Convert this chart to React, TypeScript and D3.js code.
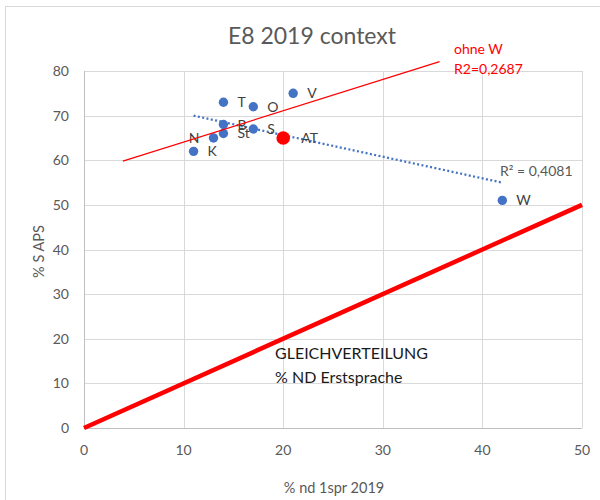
import React, { useEffect, useRef } from "react";
import * as d3 from "d3";

// scatter series (% nd 1spr 2019 vs % S APS)
const names = ["T", "O", "V", "B", "St", "N", "K", "S", "W"];
const nd1spr = [14, 17, 21, 14, 14, 13, 11, 17, 42];
const sAps = [73, 72, 75, 68, 66, 65, 62, 67, 51];
const leftLabels = ["N"];

// highlighted point
const atName = "AT";
const atX = 20;
const atY = 65;

const xTicks = [0, 10, 20, 30, 40, 50];
const yTicks = [0, 10, 20, 30, 40, 50, 60, 70, 80];

// lines drawn by hand in the original
const equalLine = [
  [0, 0],
  [50, 50],
];
const ohneWLine = [
  [3.9, 59.8],
  [35.7, 82.1],
];

const App = () => {
  const chartRef = useRef<SVGSVGElement>(null);

  useEffect(() => {
    const width = 600;
    const height = 500;
    const margin = { top: 71, right: 18, bottom: 72, left: 84 };
    const font = "Lato, 'Open Sans', sans-serif";
    const grey = "#595959";

    const svg = d3.select(chartRef.current);
    svg.selectAll("*").remove();
    svg.attr("width", width).attr("height", height);

    svg
      .append("rect")
      .attr("width", width)
      .attr("height", height)
      .attr("fill", "white");

    // chart border
    svg
      .append("rect")
      .attr("x", 5.5)
      .attr("y", 6.5)
      .attr("width", width)
      .attr("height", height)
      .attr("fill", "none")
      .attr("stroke", "#d9d9d9");

    const x = d3
      .scaleLinear()
      .domain([0, 50])
      .range([margin.left, width - margin.right]);
    const y = d3
      .scaleLinear()
      .domain([0, 80])
      .range([height - margin.bottom, margin.top]);

    // grid
    svg
      .append("g")
      .selectAll("line")
      .data(yTicks)
      .enter()
      .append("line")
      .attr("x1", x(0))
      .attr("x2", x(50))
      .attr("y1", (d) => Math.round(y(d)) + 0.5)
      .attr("y2", (d) => Math.round(y(d)) + 0.5)
      .attr("stroke", (d) => (d === 0 ? "#bfbfbf" : "#d9d9d9"));

    svg
      .append("g")
      .selectAll("line")
      .data(xTicks)
      .enter()
      .append("line")
      .attr("x1", (d) => Math.round(x(d)) + 0.5)
      .attr("x2", (d) => Math.round(x(d)) + 0.5)
      .attr("y1", y(0))
      .attr("y2", y(80))
      .attr("stroke", (d) => (d === 0 ? "#bfbfbf" : "#d9d9d9"));

    // tick labels
    svg
      .append("g")
      .selectAll("text")
      .data(yTicks)
      .enter()
      .append("text")
      .attr("x", x(0) - 15)
      .attr("y", (d) => y(d) + 5)
      .attr("text-anchor", "end")
      .attr("fill", grey)
      .style("font-family", font)
      .style("font-size", "14px")
      .text((d) => d);

    svg
      .append("g")
      .selectAll("text")
      .data(xTicks)
      .enter()
      .append("text")
      .attr("x", (d) => x(d))
      .attr("y", y(0) + 27)
      .attr("text-anchor", "middle")
      .attr("fill", grey)
      .style("font-family", font)
      .style("font-size", "14px")
      .text((d) => d);

    // axis titles
    svg
      .append("text")
      .attr("x", 334)
      .attr("y", 493)
      .attr("text-anchor", "middle")
      .attr("fill", grey)
      .style("font-family", font)
      .style("font-size", "14.5px")
      .text("% nd 1spr 2019");

    svg
      .append("text")
      .attr("transform", `translate(44,${(y(0) + y(80)) / 2 + 2}) rotate(-90)`)
      .attr("text-anchor", "middle")
      .attr("fill", grey)
      .style("font-family", font)
      .style("font-size", "14.5px")
      .text("% S APS");

    // title
    svg
      .append("text")
      .attr("x", 312)
      .attr("y", 44)
      .attr("text-anchor", "middle")
      .attr("fill", grey)
      .style("font-family", font)
      .style("font-size", "23px")
      .text("E8 2019 context");

    const line = d3
      .line()
      .x((d) => x(d[0]))
      .y((d) => y(d[1]));

    // Gleichverteilung
    svg
      .append("path")
      .datum(equalLine)
      .attr("d", line)
      .attr("stroke", "#ff0000")
      .attr("stroke-width", 4.5)
      .attr("fill", "none");

    svg
      .append("text")
      .attr("x", 275)
      .attr("y", 359)
      .attr("fill", "#1a1a1a")
      .style("font-family", font)
      .style("font-size", "16px")
      .text("GLEICHVERTEILUNG");
    svg
      .append("text")
      .attr("x", 275)
      .attr("y", 383)
      .attr("fill", "#1a1a1a")
      .style("font-family", font)
      .style("font-size", "16px")
      .text("% ND Erstsprache");

    // linear trendline over the scatter series
    const mx = d3.mean(nd1spr);
    const my = d3.mean(sAps);
    const sxy = d3.sum(nd1spr, (v, i) => (v - mx) * (sAps[i] - my));
    const sxx = d3.sum(nd1spr, (v) => (v - mx) * (v - mx));
    const slope = sxy / sxx;
    const icpt = my - slope * mx;
    const [x0, x1] = d3.extent(nd1spr);
    svg
      .append("path")
      .datum([
        [x0, icpt + slope * x0],
        [x1, icpt + slope * x1],
      ])
      .attr("d", line)
      .attr("stroke", "#4472c4")
      .attr("stroke-width", 2.25)
      .attr("stroke-dasharray", "2,2.4")
      .attr("fill", "none");

    svg
      .append("text")
      .attr("x", 500)
      .attr("y", 176)
      .attr("fill", grey)
      .style("font-family", font)
      .style("font-size", "14px")
      .text("R² = 0,4081");

    // points
    const points = names.map((n, i) => ({ n, x: nd1spr[i], y: sAps[i] }));

    svg
      .append("g")
      .selectAll("circle")
      .data(points)
      .enter()
      .append("circle")
      .attr("cx", (d) => x(d.x))
      .attr("cy", (d) => y(d.y))
      .attr("r", 4.7)
      .attr("fill", "#4472c4");

    svg
      .append("g")
      .selectAll("text")
      .data(points)
      .enter()
      .append("text")
      .attr("x", (d) => x(d.x) + (leftLabels.includes(d.n) ? -14 : 14))
      .attr("y", (d) => y(d.y) + 5)
      .attr("text-anchor", (d) => (leftLabels.includes(d.n) ? "end" : "start"))
      .attr("fill", "#404040")
      .style("font-family", font)
      .style("font-size", "14px")
      .text((d) => d.n);

    svg
      .append("circle")
      .attr("cx", x(atX))
      .attr("cy", y(atY))
      .attr("r", 6.8)
      .attr("fill", "#ff0000");
    svg
      .append("text")
      .attr("x", x(atX) + 18)
      .attr("y", y(atY) + 5)
      .attr("fill", "#404040")
      .style("font-family", font)
      .style("font-size", "14px")
      .text(atName);

    // ohne W line + note
    svg
      .append("path")
      .datum(ohneWLine)
      .attr("d", line)
      .attr("stroke", "#ff0000")
      .attr("stroke-width", 1.25)
      .attr("fill", "none");

    svg
      .append("text")
      .attr("x", 454)
      .attr("y", 54)
      .attr("fill", "#ff0000")
      .style("font-family", font)
      .style("font-size", "14px")
      .text("ohne W");
    svg
      .append("text")
      .attr("x", 454)
      .attr("y", 74)
      .attr("fill", "#ff0000")
      .style("font-family", font)
      .style("font-size", "14px")
      .text("R2=0,2687");
  }, []);

  return (
    <svg
      ref={chartRef}
      style={{ position: "absolute", left: 0, top: 0, display: "block" }}
    ></svg>
  );
};

export default App;
